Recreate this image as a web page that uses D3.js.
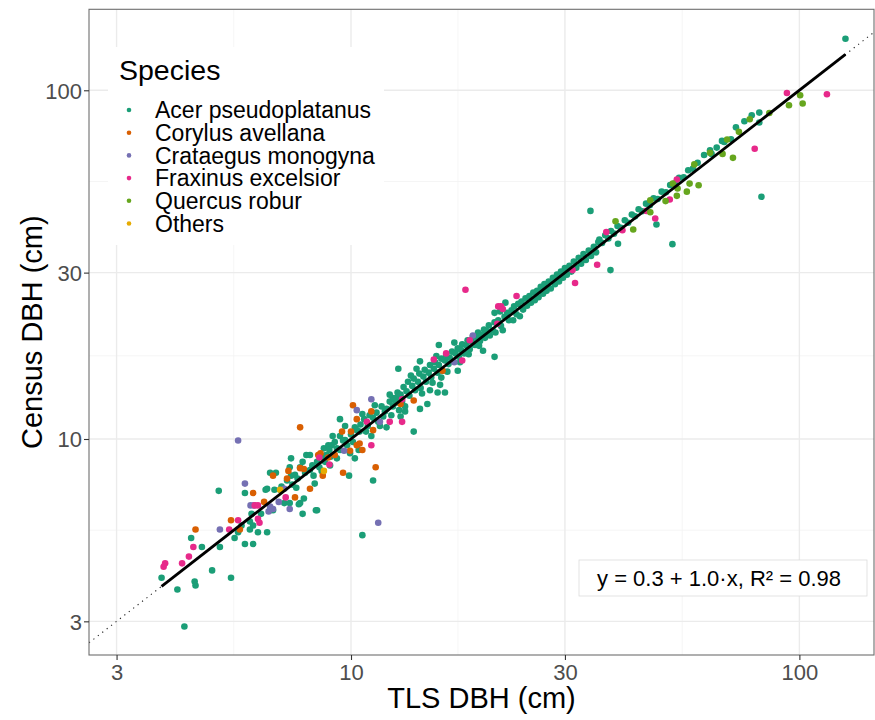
<!DOCTYPE html>
<html><head><meta charset="utf-8">
<script src="https://cdn.jsdelivr.net/npm/d3@7/dist/d3.min.js"></script>
<style>
html,body{margin:0;padding:0;background:#fff;}
svg{display:block;font-family:"Liberation Sans",Arial,Helvetica,sans-serif;}
</style></head>
<body>
<svg id="chart" width="875" height="720"></svg>
<script>
// ---------- DATA ----------
const speciesNames = ["Acer pseudoplatanus","Corylus avellana","Crataegus monogyna","Fraxinus excelsior","Quercus robur","Others"];
const speciesColors = ["#1B9E77","#D95F02","#7570B3","#E7298A","#66A61E","#E6AB02"];
const xTicks = [3,10,30,100];
const yTicks = [3,10,30,100];
const fitRange = [3.78,126.7];
const fitCoef = [0.0,1.0];
const fitLabel = "y = 0.3 + 1.0\u00b7x, R\u00b2 = 0.98";

// [TLS DBH, Census DBH]
const acer = [
[3.78,4.0],[4.1,3.7],[4.25,2.9],[4.48,3.9],[4.5,3.8],[4.4,5.2],[4.65,4.9],[4.9,4.2],[5.1,4.9],[5.07,7.1],
[5.4,4.0],[5.5,5.2],[5.7,5.65],[5.8,5.0],[6.05,5.0],[5.8,7.0],[5.95,5.8],[6.05,5.65],[5.6,5.4],[5.95,5.5],
[6.2,5.4],[6.5,5.4],[6.0,6.1],[6.3,6.1],[6.5,7.2],[6.45,7.15],[6.6,8.0],[6.8,8.0],[6.75,7.15],[6.95,7.15],
[6.6,6.25],[6.7,6.25],[7.1,6.55],[7.3,6.55],[7.7,6.55],[7.8,6.1],[8.35,6.25],[7.35,7.85],[7.35,8.8],
[7.0,7.3],[7.2,7.6],[7.4,7.4],[7.5,7.9],[7.6,7.7],[7.7,8.3],[7.9,8.0],[7.95,9.0],[8.1,9.0],[8.1,8.15],
[8.25,7.85],[8.3,7.45],[8.4,8.6],[8.5,8.3],[8.6,8.9],[8.7,9.4],[8.75,8.6],[8.8,9.0],[8.9,9.6],[8.98,8.4],
[9.05,9.6],[9.1,10.2],[9.2,9.8],[8.95,9.3],[9.3,9.4],[9.45,9.3],[9.45,10.2],[9.45,11.4],[9.7,9.93],[9.8,9.6],
[9.7,10.9],[9.9,7.85],[9.95,9.1],[10.1,9.8],[10.2,8.8],[10.2,10.8],[10.4,9.3],[10.45,10.5],[10.6,5.3],[11.2,7.6],
[7.65,6.5],[7.85,6.75],[8.4,6.25],[7.3,8.3],[7.8,8.6],[8.2,8.4],[9.0,8.9],[9.6,9.9],[10.0,10.3],[9.3,8.8],
[8.6,8.1],[7.55,7.25],
[10.5,11.0],[10.7,11.4],[10.9,10.9],[11.0,11.7],[11.2,11.5],[11.4,11.9],[11.5,11.2],[11.7,12.4],[11.8,11.6],[12.0,12.2],
[12.0,10.8],[12.2,12.8],[10.8,10.5],[11.1,10.2],[10.3,10.6],[11.6,10.9],[11.9,12.0],[12.4,12.4],[12.6,13.1],[12.8,12.1],
[10.6,11.8],[11.3,12.5],[12.3,11.7],
[12.9,11.6],[13.2,12.0],[13.8,10.5],[14.25,12.2],[14.8,12.6],[15.0,13.8],[15.6,13.6],[16.2,13.6],[15.8,14.3],[15.9,15.0],
[17.3,15.7],[14.25,16.7],[15.7,18.6],[19.7,17.9],[20.9,17.2],[12.75,15.9],
[12.4,13.1],[12.6,12.7],[12.7,13.6],[12.9,13.4],[13.0,12.8],[13.1,14.1],[13.3,13.7],[13.4,14.6],[13.5,13.3],[13.7,14.2],
[13.8,14.9],[13.9,13.8],[14.1,14.6],[14.2,15.4],[14.3,14.0],[14.5,15.1],[14.6,15.8],[14.7,14.6],[14.9,15.5],[15.0,16.3],
[15.1,15.0],[15.3,15.9],[15.4,16.6],[15.6,15.5],[15.7,16.3],[15.9,17.0],[16.0,15.7],[16.2,16.8],[16.3,17.4],[16.5,16.4],
[16.6,17.1],[16.8,17.8],[16.9,16.7],[17.1,17.6],[17.3,18.2],[17.4,17.2],[17.6,18.0],[17.7,18.7],[17.9,17.6],[18.1,18.5],
[18.2,19.2],[18.4,18.1],[18.6,19.0],[18.7,19.7],[18.9,18.6],[19.1,19.5],[19.2,20.2],[19.4,19.1],[19.6,19.9],[19.8,20.6],
[19.9,19.5],[13.6,15.2],[14.4,13.5],[15.2,14.5],[16.4,15.6],[17.5,16.6],[18.3,17.5],[19.3,18.5],[12.2,13.4],[13.2,12.4],
[14.0,15.9],[15.5,17.3],[17.0,18.9],
[20.1,20.4],[20.3,21.2],[20.4,19.8],[20.7,20.5],[20.9,21.6],[20.9,23.0],[21.0,20.2],[21.3,21.9],[21.5,23.2],[21.6,21.1],
[21.8,20.5],[22.0,22.4],[22.1,24.6],[22.3,23.0],[22.5,21.9],[22.8,23.4],[23.0,21.9],[23.1,24.0],[23.4,22.8],[23.6,24.4],
[23.8,22.5],[24.0,24.8],[24.2,23.5],[24.5,25.3],[24.7,24.1],[25.0,25.7],[25.2,24.6],[25.5,26.3],[25.7,25.0],[26.0,26.6],
[26.2,25.5],[26.5,27.3],[26.8,26.1],[27.0,27.8],[27.3,26.6],[27.6,28.3],[27.9,27.0],[28.2,29.0],[28.5,27.8],[28.8,29.6],
[29.1,28.3],[29.4,30.2],[29.7,29.0],[30.0,30.9],[30.3,29.6],[30.7,31.4],[31.0,30.2],[31.4,32.3],[31.8,31.0],[32.2,33.1],
[32.6,31.8],[33.0,33.9],[33.4,32.6],[33.9,34.7],[34.3,33.5],[34.8,35.6],[35.2,34.3],[34.2,45.1],[37.9,30.5],[35.6,36.7],
[35.8,37.3],[36.3,36.5],[36.9,38.4],[37.5,37.6],[38.0,39.5],[38.6,38.8],[39.4,36.3],[39.3,40.8],[40.0,40.3],[40.8,42.4],
[41.5,41.7],[42.3,44.0],[43.0,43.5],[43.8,45.6],[44.6,45.0],[45.5,47.3],[46.4,46.8],[47.3,49.0],[48.0,41.2],[48.3,48.8],
[49.3,51.2],[50.4,51.0],[51.5,53.5],[52.1,36.2],[52.7,54.0],[53.9,56.1],[55.2,56.3],[56.5,59.0],[57.9,59.6],[59.3,62.0],
[61.3,65.2],[63.2,67.3],[63.7,65.7],[65.4,68.5],[67.2,71.6],[68.0,71.1],[70.4,72.4],[72.2,78.3],[75.4,81.5],[78.3,84.8],
[81.4,86.3],[81.4,80.8],[82.3,49.5],[126.7,140.6]
];
const corylus = [
[4.5,5.5],[5.4,5.85],[5.65,5.5],[6.05,7.0],[6.4,6.6],[6.7,7.85],[7.2,7.7],[7.25,8.1],[7.5,6.8],[7.7,8.25],
[7.7,10.8],[7.85,8.2],[8.1,7.2],[8.45,9.0],[8.55,9.1],[8.65,7.85],[8.9,8.85],[9.2,9.0],[9.55,10.5],[9.6,8.0],
[9.95,9.25],[10.0,10.5],[10.1,12.5],[10.3,11.4],[10.3,9.6],[10.45,9.7],[10.6,9.3],[11.1,12.0],[11.2,10.6],[11.35,8.3],
[12.9,12.6],[13.8,12.9],[16.0,15.7]
];
const crataegus = [
[5.1,5.5],[5.6,9.9],[5.8,7.45],[5.97,6.45],[6.07,6.45],[6.55,6.2],[6.6,6.4],[6.7,6.3],[6.9,6.6],[7.1,7.2],
[7.3,6.3],[9.65,9.25],[10.3,12.1],[11.1,13.0],[11.5,5.75],[11.6,11.2],[17.0,16.6],[18.7,19.8]
];
const fraxinus = [
[3.82,4.3],[3.85,4.4],[4.2,4.4],[4.35,4.6],[4.45,4.9],[5.35,5.5],[5.6,5.85],[6.1,6.45],[6.2,6.45],[6.2,5.9],
[6.25,5.75],[7.15,6.8],[8.5,8.85],[8.95,8.45],[10.85,11.2],[11.1,9.6],[12.2,11.2],[13.0,11.2],[13.0,13.0],[15.3,16.9],
[16.3,17.6],[17.7,16.8],[18.0,26.8],[18.4,19.2],[21.2,21.4],[21.3,24.0],[21.6,24.0],[21.8,23.6],[23.4,25.7],[31.2,30.5],
[31.6,28.0],[35.4,31.6],[37.1,39.2],[40.3,39.7],[45.6,45.1],[47.7,42.9],[51.4,48.6],[53.3,55.5],[79.5,68.0],[93.8,98.2],
[115.2,97.4]
];
const quercus = [
[38.9,42.1],[42.6,39.9],[46.5,48.4],[46.5,44.7],[50.3,48.1],[52.2,54.0],[53.3,49.8],[53.5,52.3],[56.1,51.2],[56.9,54.0],
[58.3,61.3],[59.6,53.4],[63.2,66.2],[67.4,65.7],[69.0,72.2],[71.1,64.0],[73.3,76.0],[77.5,82.6],[85.7,86.1],[94.8,90.6],
[100.4,96.8],[101.7,91.6]
];
const others = [[6.95,7.15],[8.7,8.1]];

const seriesData = [acer, corylus, crataegus, fraxinus, quercus, others];

// ---------- LAYOUT ----------
const P = {left:89, right:874, top:9.3, bottom:655};
const svg = d3.select("#chart");

const x = d3.scaleLog().domain([2.604,146.7]).range([P.left,P.right]);
const y = d3.scaleLog().domain([2.402,170.7]).range([P.bottom,P.top]);

const geoMid = (a,b)=>Math.sqrt(a*b);
const xMinor = d3.pairs(xTicks).map(([a,b])=>geoMid(a,b));
const yMinor = d3.pairs(yTicks).map(([a,b])=>geoMid(a,b));

svg.append("rect").attr("x",P.left).attr("y",P.top).attr("width",P.right-P.left).attr("height",P.bottom-P.top).attr("fill","#fff");

const grid = svg.append("g");
grid.selectAll(".vmin").data(xMinor).join("line")
  .attr("x1",d=>x(d)).attr("x2",d=>x(d)).attr("y1",P.top).attr("y2",P.bottom)
  .attr("stroke","#f2f2f2").attr("stroke-width",0.8);
grid.selectAll(".hmin").data(yMinor).join("line")
  .attr("y1",d=>y(d)).attr("y2",d=>y(d)).attr("x1",P.left).attr("x2",P.right)
  .attr("stroke","#f2f2f2").attr("stroke-width",0.8);
grid.selectAll(".vmaj").data(xTicks).join("line")
  .attr("x1",d=>x(d)).attr("x2",d=>x(d)).attr("y1",P.top).attr("y2",P.bottom)
  .attr("stroke","#ebebeb").attr("stroke-width",1.4);
grid.selectAll(".hmaj").data(yTicks).join("line")
  .attr("y1",d=>y(d)).attr("y2",d=>y(d)).attr("x1",P.left).attr("x2",P.right)
  .attr("stroke","#ebebeb").attr("stroke-width",1.4);

svg.append("clipPath").attr("id","clip").append("rect")
  .attr("x",P.left).attr("y",P.top).attr("width",P.right-P.left).attr("height",P.bottom-P.top);
const plot = svg.append("g").attr("clip-path","url(#clip)");

const dom = x.domain();
plot.append("line")
  .attr("x1",x(dom[0])).attr("y1",y(dom[0])).attr("x2",x(dom[1])).attr("y2",y(dom[1]))
  .attr("stroke","#222").attr("stroke-width",1.1).attr("stroke-dasharray","1.2,4.4");

seriesData.forEach((arr,i)=>{
  plot.append("g").selectAll("circle").data(arr).join("circle")
    .attr("cx",d=>x(d[0])).attr("cy",d=>y(d[1])).attr("r",3.3)
    .attr("fill",speciesColors[i]);
});

const fitPts = fitRange.map(v=>[v, fitCoef[0]+fitCoef[1]*v]);
plot.append("path").datum(fitPts)
  .attr("d",d3.line().x(d=>x(d[0])).y(d=>y(d[1])))
  .attr("stroke","#000").attr("stroke-width",2.8).attr("fill","none");

svg.append("rect").attr("x",P.left).attr("y",P.top).attr("width",P.right-P.left).attr("height",P.bottom-P.top)
  .attr("fill","none").attr("stroke","#6e6e6e").attr("stroke-width",1.1);

const xAxis = svg.append("g").attr("transform",`translate(0,${P.bottom})`)
  .call(d3.axisBottom(x).tickValues(xTicks).tickFormat(d3.format("d")).tickSize(5).tickPadding(4));
const yAxis = svg.append("g").attr("transform",`translate(${P.left},0)`)
  .call(d3.axisLeft(y).tickValues(yTicks).tickFormat(d3.format("d")).tickSize(5).tickPadding(4));
[xAxis,yAxis].forEach(g=>{
  g.select(".domain").remove();
  g.selectAll(".tick line").attr("stroke","#333").attr("stroke-width",1.1);
  g.selectAll(".tick text").attr("fill","#4d4d4d").style("font-size","22px")
    .style("font-family",'"Liberation Sans",Arial,sans-serif');
});
xAxis.selectAll(".tick text").attr("dy","0.72em").attr("y",9);
yAxis.selectAll(".tick text").attr("dy","0.36em").attr("x",-7);

svg.append("text").attr("x",(P.left+P.right)/2).attr("y",708).attr("text-anchor","middle")
  .style("font-size","29px").attr("fill","#000").text("TLS DBH (cm)");
svg.append("text").attr("transform",`translate(42,${(P.top+P.bottom)/2}) rotate(-90)`).attr("text-anchor","middle")
  .style("font-size","29px").attr("fill","#000").text("Census DBH (cm)");

const lg = svg.append("g");
lg.append("rect").attr("x",108).attr("y",47).attr("width",276).attr("height",198).attr("fill","#fff");
lg.append("text").attr("x",119).attr("y",80).style("font-size","28.5px").attr("fill","#000").text("Species");
speciesNames.forEach((s,i)=>{
  const cy = 110 + i*22.7;
  lg.append("circle").attr("cx",129).attr("cy",cy).attr("r",2.3).attr("fill",speciesColors[i]);
  lg.append("text").attr("x",155).attr("y",cy+8.3).style("font-size","23px").attr("fill","#000").text(s);
});

const lb = svg.append("g");
lb.append("rect").attr("x",579).attr("y",560).attr("width",288).attr("height",36)
  .attr("fill","#fff").attr("stroke","#dcdcdc").attr("stroke-width",0.8);
lb.append("text").attr("x",719).attr("y",586).attr("text-anchor","middle")
  .style("font-size","22px").attr("fill","#000").text(fitLabel);
</script>
</body></html>
